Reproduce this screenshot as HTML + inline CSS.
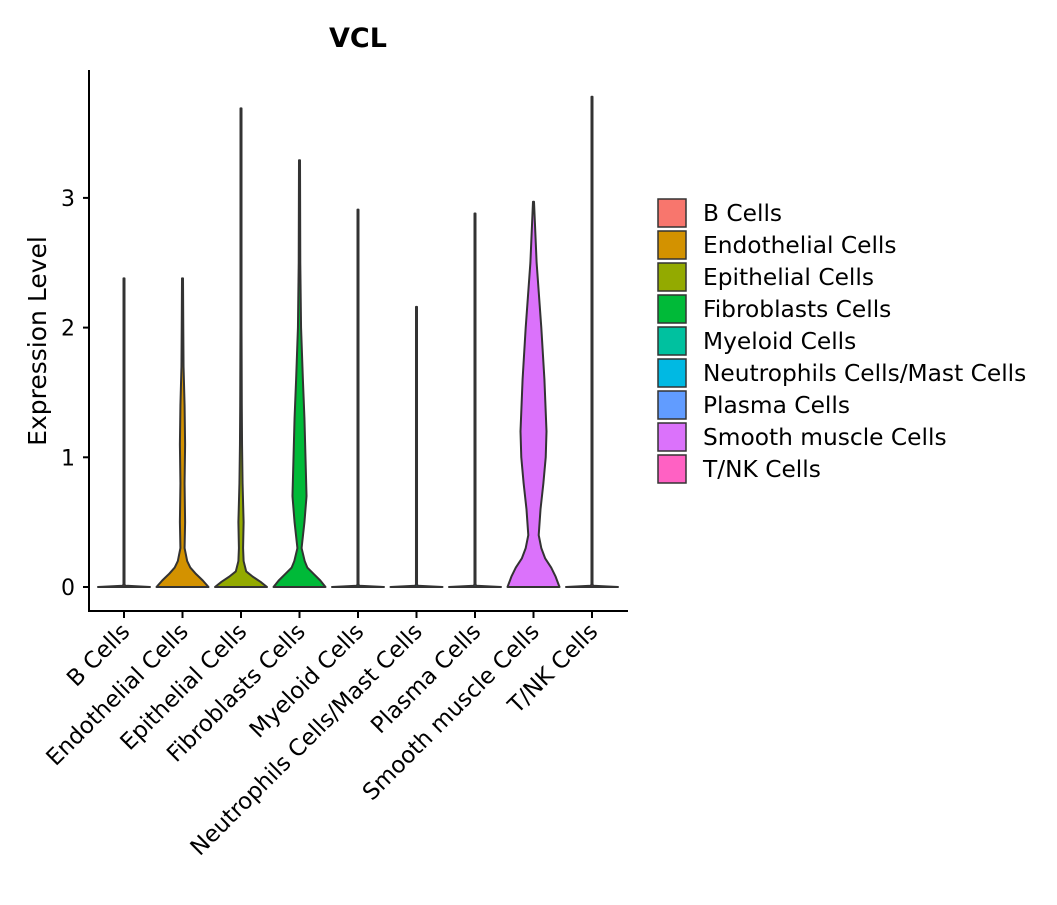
<!DOCTYPE html>
<html><head><meta charset="utf-8"><style>
body{margin:0;background:#fff}
svg text{font-family:"DejaVu Sans","Liberation Sans",sans-serif;fill:#000}
</style></head><body>
<svg id="chart" width="1057" height="900"></svg>
<script>
const categories=["B Cells","Endothelial Cells","Epithelial Cells","Fibroblasts Cells","Myeloid Cells","Neutrophils Cells/Mast Cells","Plasma Cells","Smooth muscle Cells","T/NK Cells"];
const colors=["#F8766D","#D39200","#93AA00","#00BA38","#00C19F","#00B9E3","#619CFF","#DB72FB","#FF61C3"];
const maxValues=[2.38,2.38,3.69,3.29,2.91,2.16,2.88,2.97,3.78];
// density profiles: y levels and relative half-widths (0..1)
const densY=[
 [0,0.01,0.02],
 [0,0.05,0.1,0.15,0.2,0.3,0.5,0.8,1.1,1.4,1.7,2.0],
 [0,0.04,0.08,0.12,0.2,0.3,0.5,0.8,1.1,1.4,2.0],
 [0,0.05,0.1,0.15,0.2,0.3,0.5,0.7,1.0,1.3,1.6,2.0,2.5],
 [0,0.01,0.02],
 [0,0.01,0.02],
 [0,0.01,0.02],
 [0,0.08,0.15,0.22,0.3,0.4,0.6,0.8,1.0,1.2,1.6,2.0,2.5],
 [0,0.01,0.02]];
const densW=[
 [1,0.05,0.02],
 [1,0.78,0.52,0.3,0.18,0.08,0.1,0.08,0.1,0.08,0.04,0.03],
 [1,0.75,0.45,0.2,0.1,0.08,0.1,0.06,0.04,0.03,0.02],
 [1,0.8,0.55,0.3,0.2,0.08,0.19,0.27,0.23,0.19,0.13,0.06,0.03],
 [1,0.05,0.02],
 [1,0.05,0.02],
 [1,0.05,0.02],
 [1,0.85,0.68,0.45,0.3,0.2,0.27,0.38,0.47,0.5,0.42,0.3,0.12],
 [1,0.05,0.02]];
const yTicks=[0,1,2,3];
const NS="http://www.w3.org/2000/svg";
const svg=document.getElementById('chart');
const L=89,R=628,T=70,B=611;
const y0=587,yUnit=129.7;
function ys(v){return y0-v*yUnit;}
function xs(i){return 124+i*58.5;}
const halfMax=26;
function mk(tag,attrs,parent){const e=document.createElementNS(NS,tag);for(const k in attrs)e.setAttribute(k,attrs[k]);(parent||svg).appendChild(e);return e;}
const g=mk('g',{});


categories.forEach((c,i)=>{
  const cx=xs(i);const pts=[];
  const dy=densY[i],dw=densW[i];
  for(let k=0;k<dy.length;k++)pts.push([dy[k],Math.max(dw[k]*halfMax,0.5)]);
  pts.push([maxValues[i],0.5]);
  let d='M'+(cx-pts[0][1])+','+ys(0);
  for(const p of pts)d+=' L'+(cx-p[1])+','+ys(p[0]);
  d+=' L'+cx+','+ys(maxValues[i]);
  for(let k=pts.length-1;k>=0;k--)d+=' L'+(cx+pts[k][1])+','+ys(pts[k][0]);
  d+=' Z';
  const p=mk('path',{d:d,fill:colors[i],stroke:'#333','stroke-width':2,'stroke-linejoin':'round'},g);
  
  
});
const ax=mk('path',{d:`M${L},${T} L${L},${B} L${R},${B}`,stroke:'#000','stroke-width':2,fill:'none'});


yTicks.forEach(v=>{
  mk('line',{x1:L-6,x2:L,y1:ys(v),y2:ys(v),stroke:'#000','stroke-width':2});
  const t=mk('text',{x:L-14,y:ys(v)+8,'text-anchor':'end','font-size':22});
  t.textContent=v;
  
  
});
categories.forEach((c,i)=>{
  const x=xs(i);
  mk('line',{x1:x,x2:x,y1:B,y2:B+7,stroke:'#000','stroke-width':2});
  const t=mk('text',{x:x+7,y:B+22,'text-anchor':'end','font-size':22.8,transform:`rotate(-45 ${x+7} ${B+22})`});
  t.textContent=c;
  
  
});
const yt=mk('text',{x:46,y:341,'text-anchor':'middle','font-size':25,transform:'rotate(-90 46 341)'});
yt.textContent='Expression Level';


const tt=mk('text',{x:358,y:47,'text-anchor':'middle','font-size':27,'font-weight':'bold'});
tt.textContent='VCL';


const lg=mk('g',{});


categories.forEach((c,i)=>{
  const y=199+i*32;
  const r=mk('rect',{x:658,y:y,width:28,height:28,fill:colors[i],stroke:'#333','stroke-width':1.5},lg);
  
  
  const t=mk('text',{x:703,y:y+22,'font-size':23.3},lg);
  t.textContent=c;
  
  
});
</script>
</body></html>
